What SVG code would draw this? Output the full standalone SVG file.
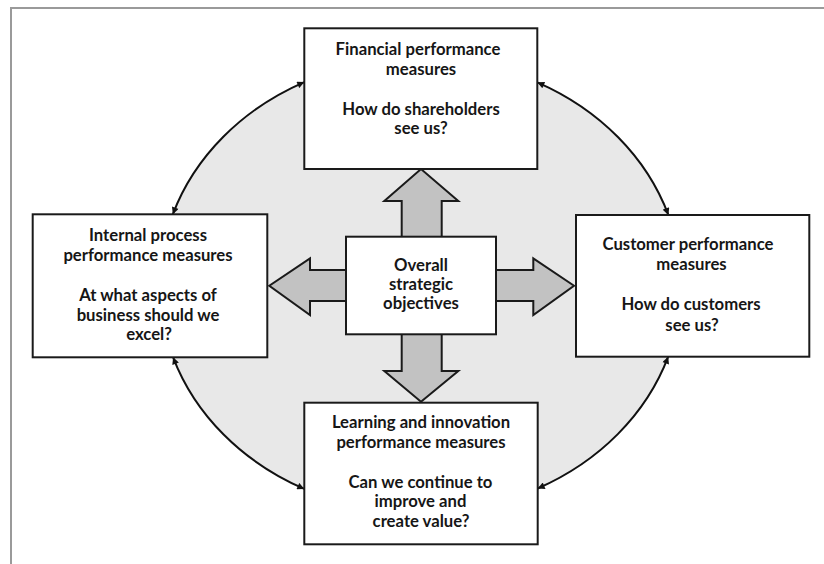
<svg xmlns="http://www.w3.org/2000/svg" width="824" height="564" viewBox="0 0 824 564">
  <style>
    .frame { stroke: #9a9a9a; stroke-width: 2; fill: none; }
    .box { fill: #ffffff; stroke: #1a1a1a; stroke-width: 2; }
    .big { fill: #c2c2c2; stroke: #1a1a1a; stroke-width: 2; stroke-linejoin: miter; }
    .arc { fill: none; stroke: #111111; stroke-width: 2; }
    .lbl { font-family: Lato, "Open Sans", "Liberation Sans", sans-serif; font-weight: bold; font-size: 16.7px; fill: #161616; text-anchor: middle; }
  </style>
  <defs>
    <marker id="tip" viewBox="0 0 10 10" refX="10" refY="5" markerWidth="8" markerHeight="7" markerUnits="userSpaceOnUse" orient="auto-start-reverse">
      <path d="M0,0 L10,5 L0,10 z" fill="#111111"/>
    </marker>
  </defs>

  <rect width="824" height="564" fill="#ffffff"/>
  <!-- page frame (top and left edges) -->
  <path class="frame" d="M11,564 V8 H824"/>

  <!-- shaded ellipse behind the perspectives -->
  <ellipse cx="420.5" cy="285.5" rx="261" ry="227" fill="#e8e8e8"/>

  <!-- double-headed arcs between neighbouring perspectives -->
  <g id="connectors">
    <path class="arc" d="M304.3,82.1 A261,227 0 0 0 172.8,214.3" marker-start="url(#tip)" marker-end="url(#tip)"/>
    <path class="arc" d="M537.3,82.3 A261,227 0 0 1 668.4,215" marker-start="url(#tip)" marker-end="url(#tip)"/>
    <path class="arc" d="M668.2,356.7 A261,227 0 0 1 537.7,488.5" marker-start="url(#tip)" marker-end="url(#tip)"/>
    <path class="arc" d="M173.1,357.3 A261,227 0 0 0 304.3,488.9" marker-start="url(#tip)" marker-end="url(#tip)"/>
    <!-- block arrows from the centre -->
    <polygon class="big" points="401.7,237 401.7,201 384.3,201 421,169 458.3,201 441.7,201 441.7,237"/>
    <polygon class="big" points="346,270 310,270 310,258.3 269.3,285.7 310,315 310,301 346,301"/>
    <polygon class="big" points="496,270 533.3,270 533.3,258.3 574,285.7 533.3,315 533.3,301 496,301"/>
    <polygon class="big" points="401.7,334 401.7,371 384.3,371 421,401.7 458.3,371 441.7,371 441.7,334"/>
  </g>

  <g id="financial">
    <rect class="box" x="304.3" y="28.3" width="233" height="140.7"/>
    <text class="lbl" x="418" y="55">Financial performance</text>
    <text class="lbl" x="421" y="74.5">measures</text>
    <text class="lbl" x="421" y="114.5">How do shareholders</text>
    <text class="lbl" x="421" y="134">see us?</text>
  </g>

  <g id="internal">
    <rect class="box" x="32.7" y="214.3" width="234.6" height="143"/>
    <text class="lbl" x="148" y="241">Internal process</text>
    <text class="lbl" x="148" y="260.7">performance measures</text>
    <text class="lbl" x="148" y="301">At what aspects of</text>
    <text class="lbl" x="148" y="320.7">business should we</text>
    <text class="lbl" x="149" y="340">excel?</text>
  </g>

  <g id="customer">
    <rect class="box" x="576" y="215" width="233.3" height="141.7"/>
    <text class="lbl" x="688" y="250">Customer performance</text>
    <text class="lbl" x="691.5" y="270">measures</text>
    <text class="lbl" x="691" y="310">How do customers</text>
    <text class="lbl" x="692" y="330.7">see us?</text>
  </g>

  <g id="overall">
    <rect class="box" x="346" y="236.7" width="150" height="97.6"/>
    <text class="lbl" x="421" y="270.7">Overall</text>
    <text class="lbl" x="421" y="290">strategic</text>
    <text class="lbl" x="421" y="309.3">objectives</text>
  </g>

  <g id="learning">
    <rect class="box" x="304.3" y="402.7" width="233.4" height="141.6"/>
    <text class="lbl" x="421" y="428.3">Learning and innovation</text>
    <text class="lbl" x="421" y="448.3">performance measures</text>
    <text class="lbl" x="420.5" y="487.7">Can we continue to</text>
    <text class="lbl" x="420.5" y="507.3">improve and</text>
    <text class="lbl" x="421" y="527.3">create value?</text>
  </g>
</svg>
